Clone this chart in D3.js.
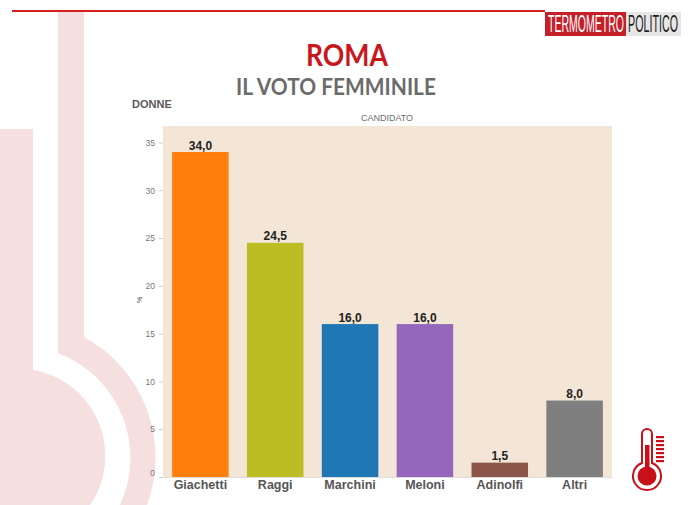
<!DOCTYPE html>
<html>
<head>
<meta charset="utf-8">
<script src="https://d3js.org/d3.v7.min.js"></script>
<style>
  html, body { margin: 0; padding: 0; background: #fff; }
  svg { display: block; }
  text { font-family: "Liberation Sans", Arial, sans-serif; }
</style>
</head>
<body>
<div id="chart"></div>
<script>
const categories = ["Giachetti", "Raggi", "Marchini", "Meloni", "Adinolfi", "Altri"];
const values = [34.0, 24.5, 16.0, 16.0, 1.5, 8.0];
const barColors = ["#ff7f0e", "#bcbd22", "#1f77b4", "#9467bd", "#8c564b", "#7f7f7f"];
const yTicks = [0, 5, 10, 15, 20, 25, 30, 35];

const svg = d3.select("#chart").append("svg")
    .attr("width", 700)
    .attr("height", 505);

// Background thermometer watermark
const pale = "#f6dfdf";
const bg = svg.append("g");
bg.append("path")
    .attr("fill", pale)
    .attr("d", "M0,129 L33,129 L33,370 A87,87 0 0 1 90,505 L0,505 Z");
bg.append("path")
    .attr("fill", pale)
    .attr("d", "M58,12 L84,12 L84,337 A137,137 0 0 1 147,505 L120,505 A112,112 0 0 0 58,353 Z");

// Top rule
svg.append("line")
    .attr("x1", 12).attr("x2", 545)
    .attr("y1", 11).attr("y2", 11)
    .attr("stroke", "#d6201f")
    .attr("stroke-width", 2);

// Squeeze a tall logo word into the width it has in the picture
function fitText(sel, left, baseline, width) {
    const w = sel.node().getComputedTextLength();
    sel.attr("transform", `translate(${left},${baseline}) scale(${width / w},1)`);
}

// Logo
const logo = svg.append("g");
logo.append("rect").attr("x", 545).attr("y", 12).attr("width", 81).attr("height", 24).attr("fill", "#c4202a");
logo.append("rect").attr("x", 626).attr("y", 12).attr("width", 55).attr("height", 24).attr("fill", "#e6e6e6");
logo.append("text")
    .attr("font-size", 24).attr("fill", "#fff")
    .text("TERMOMETRO")
    .call(fitText, 548, 32, 76);
logo.append("text")
    .attr("font-size", 24).attr("fill", "#222")
    .text("POLITICO")
    .call(fitText, 628, 32, 50);

// Titles
svg.append("text")
    .attr("x", 347).attr("y", 66)
    .attr("text-anchor", "middle")
    .attr("font-size", 30).attr("font-weight", "bold")
    .attr("fill", "#c8181e")
    .attr("textLength", 82).attr("lengthAdjust", "spacingAndGlyphs")
    .style("font-family", "Lato")
    .text("ROMA");
svg.append("text")
    .attr("x", 336).attr("y", 95)
    .attr("text-anchor", "middle")
    .attr("font-size", 22).attr("font-weight", "bold")
    .attr("fill", "#6b6b6b")
    .attr("textLength", 200).attr("lengthAdjust", "spacingAndGlyphs")
    .style("font-family", "Lato")
    .text("IL VOTO FEMMINILE");
svg.append("text")
    .attr("x", 132).attr("y", 108)
    .attr("font-size", 11).attr("font-weight", "bold")
    .attr("fill", "#5a5a5a")
    .text("DONNE");
svg.append("text")
    .attr("x", 387).attr("y", 121)
    .attr("text-anchor", "middle")
    .attr("font-size", 9)
    .attr("fill", "#6e6e6e")
    .text("CANDIDATO");

// Chart
const plot = { left: 163, right: 612, top: 126, bottom: 477 };

const x = d3.scaleBand()
    .domain(categories)
    .range([plot.left, plot.right])
    .paddingInner(0.245)
    .paddingOuter(0.122);

const y = d3.scaleLinear()
    .domain([0, 35])
    .range([plot.bottom, 142.5]);

svg.append("rect")
    .attr("x", plot.left).attr("y", plot.top)
    .attr("width", plot.right - plot.left)
    .attr("height", plot.bottom - plot.top)
    .attr("fill", "#f3e6d7");

svg.selectAll(".bar")
    .data(values)
    .enter()
    .append("rect")
    .attr("class", "bar")
    .attr("x", (d, i) => x(categories[i]))
    .attr("y", d => y(d))
    .attr("width", x.bandwidth())
    .attr("height", d => y(0) - y(d))
    .attr("fill", (d, i) => barColors[i]);

svg.selectAll(".label")
    .data(values)
    .enter()
    .append("text")
    .attr("class", "label")
    .attr("x", (d, i) => x(categories[i]) + x.bandwidth() / 2)
    .attr("y", d => y(d) - 2.5)
    .attr("text-anchor", "middle")
    .attr("font-size", 12)
    .attr("font-weight", "bold")
    .attr("fill", "#222")
    .text(d => d.toFixed(1).replace(".", ","));

// Y axis
const yAxis = svg.append("g")
    .attr("transform", `translate(${plot.left},0)`)
    .call(d3.axisLeft(y).tickValues(yTicks).tickSize(4).tickPadding(4));
yAxis.select(".domain").remove();
yAxis.selectAll("line").attr("stroke", "#ccc");
yAxis.selectAll("text")
    .attr("font-size", 8.5)
    .attr("fill", "#777")
    .style("font-family", '"Liberation Sans"')
    .attr("dy", d => d === 0 ? "-0.2em" : "0.32em");

svg.append("text")
    .attr("transform", "translate(142,300) rotate(-90)")
    .attr("text-anchor", "middle")
    .attr("font-size", 7)
    .attr("fill", "#555")
    .text("%");

// X axis
const xAxis = svg.append("g")
    .attr("transform", `translate(0,${plot.bottom})`)
    .call(d3.axisBottom(x).tickSize(0).tickPadding(3));
xAxis.select(".domain").attr("stroke", "#ddd");
xAxis.selectAll("text")
    .attr("font-size", 12.5)
    .attr("font-weight", "bold")
    .attr("fill", "#555")
    .style("font-family", '"Liberation Sans"');

// Thermometer icon
const red = "#c8101a";
const icon = svg.append("g");
icon.append("path")
    .attr("fill", "none")
    .attr("stroke", red)
    .attr("stroke-width", 2)
    .attr("d", "M642,463 L642,434 A5,5 0 0 1 652,434 L652,463 A14,14 0 1 1 642,463 Z");
icon.append("rect").attr("x", 645).attr("y", 445).attr("width", 4.5).attr("height", 25).attr("fill", red);
icon.append("circle").attr("cx", 647).attr("cy", 476).attr("r", 9.5).attr("fill", red);
icon.selectAll(".mark")
    .data(d3.range(7))
    .enter()
    .append("rect")
    .attr("class", "mark")
    .attr("x", 656)
    .attr("y", d => 436 + d * 4)
    .attr("width", 8)
    .attr("height", 2.2)
    .attr("fill", red);
</script>
</body>
</html>
